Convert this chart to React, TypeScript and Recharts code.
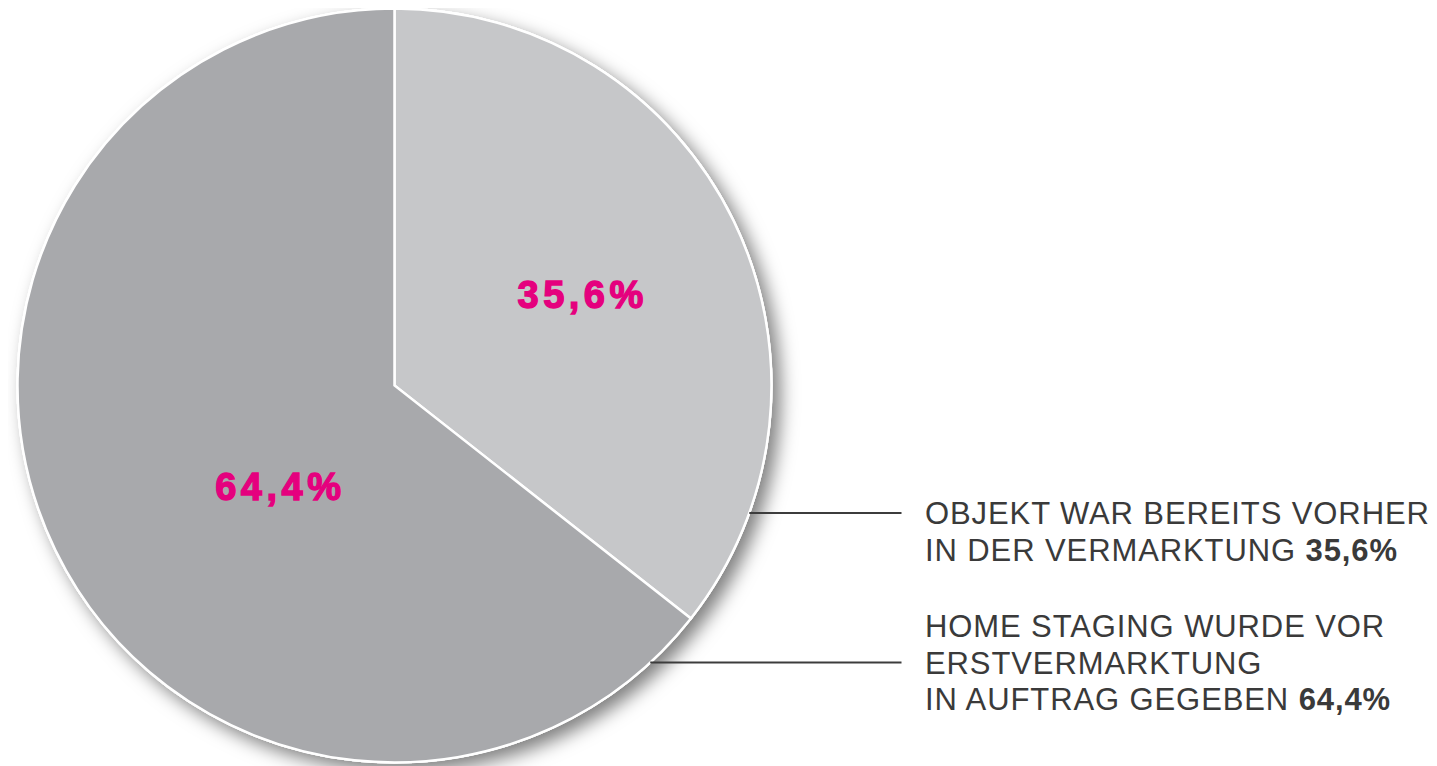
import React from "react";
import { PieChart, Pie, Cell } from "recharts";

const categories = [
  "OBJEKT WAR BEREITS VORHER IN DER VERMARKTUNG",
  "HOME STAGING WURDE VOR ERSTVERMARKTUNG IN AUFTRAG GEGEBEN",
];
const values = [35.6, 64.4];
const valueLabels = ["35,6%", "64,4%"];
const legendLines = [
  ["OBJEKT WAR BEREITS VORHER", "IN DER VERMARKTUNG"],
  ["HOME STAGING WURDE VOR", "ERSTVERMARKTUNG", "IN AUFTRAG GEGEBEN"],
];

const colors = ["#c6c7c9", "#a8a9ac"];
const MAGENTA = "#e5007e";
const TEXT = "#3a3a3a";
const FONT = "Liberation Sans, Arial, sans-serif";

// label placement style (radius fraction, angle offset in degrees)
const labelRadiusFrac = [0.555, 0.405];
const labelAngleOffset = [0, 15.7];
// legend layout style (offsets from the pie centre, in px)
const legendFirstLine = [127.5, 240.5];
const legendLeaderLine = [0, 1];
const LINE_H = 36.5;

const data = categories.map((name, i) => ({ name, value: values[i] }));
const bg = [{ name: "bg", value: 1 }];

const RAD = Math.PI / 180;

const renderLabel = (props: any) => {
  const { cx, cy, outerRadius, midAngle, index } = props;
  const a = (midAngle + labelAngleOffset[index]) * RAD;
  const rr = outerRadius * labelRadiusFrac[index];
  const lx = cx + rr * Math.cos(-a);
  const ly = cy + rr * Math.sin(-a);
  const lines = legendLines[index];
  const legendX = cx + outerRadius + 153.5;
  const leaderEnd = cx + outerRadius + 130;
  const leaderDy = legendFirstLine[index] + legendLeaderLine[index] * LINE_H;
  const leaderStart = cx + Math.sqrt(outerRadius * outerRadius - leaderDy * leaderDy);
  return (
    <g key={`lbl-${index}`}>
      <text
        x={lx}
        y={ly + 13.5}
        textAnchor="middle"
        stroke={MAGENTA}
        strokeWidth={1.4}
        style={{ fontFamily: FONT, fontWeight: 700, fontSize: 38, letterSpacing: 4.5, fill: MAGENTA }}
      >
        {valueLabels[index]}
      </text>
      <line
        x1={leaderStart}
        y1={cy + leaderDy}
        x2={leaderEnd}
        y2={cy + leaderDy}
        stroke="#3c3c3c"
        strokeWidth={2}
      />
      {lines.map((t, j) => (
        <text
          key={j}
          x={legendX}
          y={cy + legendFirstLine[index] + j * LINE_H + 11}
          style={{ fontFamily: FONT, fontSize: 31, letterSpacing: 0.9, fill: TEXT }}
        >
          {t}
          {j === lines.length - 1 ? (
            <tspan style={{ fontWeight: 700 }}>{" " + valueLabels[index]}</tspan>
          ) : null}
        </text>
      ))}
    </g>
  );
};

export default function App() {
  return (
    <div style={{ position: "relative", width: 1421, height: 758 }}>
      <svg width={0} height={0} style={{ position: "absolute" }}>
        <defs>
          <filter id="pieShadow" x="-20%" y="-20%" width="140%" height="140%">
            <feDropShadow dx={8} dy={8} stdDeviation={9} floodColor="#000" floodOpacity={0.5} />
          </filter>
        </defs>
      </svg>
      <PieChart width={1421} height={758} margin={{ top: 0, right: 0, bottom: 0, left: 0 }}>
        <Pie
          data={bg}
          dataKey="value"
          cx={386.5}
          cy={377.5}
          outerRadius={378}
          startAngle={90}
          endAngle={-270}
          stroke="none"
          isAnimationActive={false}
          legendType="none"
        >
          <Cell fill="#ffffff" filter="url(#pieShadow)" />
        </Pie>
        <Pie
          data={data}
          dataKey="value"
          cx={386.5}
          cy={377.5}
          outerRadius={377}
          startAngle={90}
          endAngle={-270}
          stroke="#ffffff"
          strokeWidth={2.5}
          label={renderLabel}
          labelLine={false}
          isAnimationActive={false}
        >
          {data.map((d, i) => (
            <Cell key={d.name} fill={colors[i]} />
          ))}
        </Pie>
      </PieChart>
    </div>
  );
}
